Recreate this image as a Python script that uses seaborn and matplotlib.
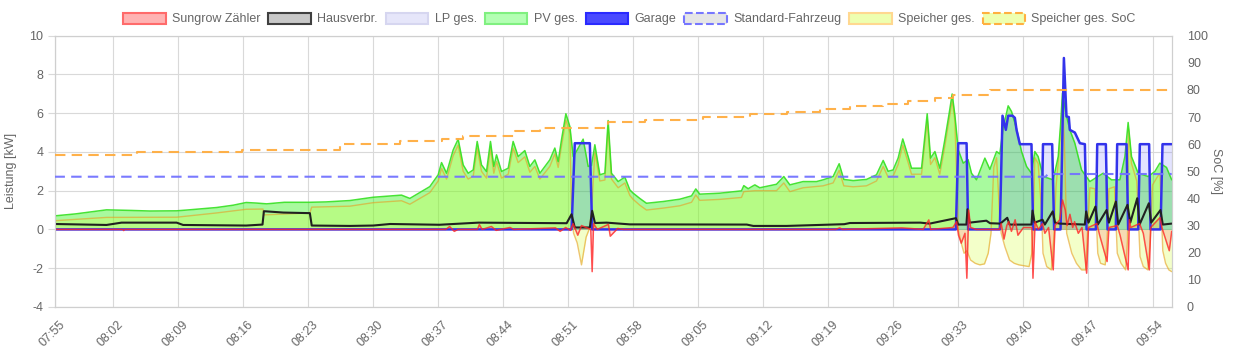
import matplotlib
matplotlib.use("Agg")
import matplotlib.pyplot as plt
import matplotlib.transforms as mtransforms
import seaborn as sns
from matplotlib.patches import Patch

# ---------------- data (x = minutes after 07:00) ----------------
pv_points = [(55.79,0.70),(58.0,0.8),(61.35,1.01),(64.0,0.98),(66.0,0.95),(68.9,0.96),(70.0,1.0),(73.2,1.13),
    (75.0,1.25),(76.4,1.39),(77.5,1.36),(78.6,1.32),(80.5,1.4),(83.25,1.4),(85.0,1.42),(87.55,1.49),(90.07,1.66),
    (93.12,1.77),(94.02,1.6),(96.17,2.21),(97.07,2.82),(97.43,3.45),(97.97,2.9),(98.68,4.1),(99.22,4.66),(99.76,3.33),
    (100.3,2.9),(100.84,3.07),(101.27,4.54),(101.73,3.33),(102.27,2.99),(102.7,4.54),(103.06,3.25),(103.35,3.85),
    (103.89,2.99),(104.61,3.16),(105.14,4.54),(105.68,3.76),(106.4,4.07),(106.94,3.25),(107.48,3.59),(108.02,2.9),
    (109.09,3.59),(109.63,4.2),(109.99,3.5),(110.35,4.63),(110.82,5.97),(111.25,5.31),(111.61,3.76),(112.04,4.1),
    (112.68,4.66),(113.22,3.25),(113.58,3.3),(113.94,4.37),(114.48,2.82),(115.02,2.9),(115.37,5.62),(115.73,2.9),
    (116.45,2.47),(117.17,2.7),(117.71,2.04),(118.07,1.87),(118.78,1.6),(119.5,1.35),(121.3,1.44),(123.09,1.56),
    (124.35,1.73),(124.81,2.09),(125.24,1.82),(127.4,1.87),(129.73,1.99),(129.98,2.26),(130.45,2.1),(131.17,2.3),
    (131.7,2.15),(133.5,2.33),(134.29,2.73),(134.94,2.3),(136.37,2.47),(137.81,2.47),(138.52,2.56),(139.6,2.73),
    (140.25,3.39),(140.75,2.58),(141.76,2.52),(143.19,2.58),(144.27,2.82),(144.99,3.56),(145.52,3.0),(146.06,3.07),
    (146.6,3.68),(147.1,4.67),(147.68,3.76),(148.04,3.16),(149.12,3.16),(149.73,5.97),(150.09,3.68),(150.56,4.02),
    (151.09,3.16),(151.63,4.63),(152.1,6.0),(152.42,6.99),(152.71,5.9),(153.07,4.11),(153.61,3.42),(154.14,3.6),
    (154.5,2.9),(155.04,2.56),(155.94,3.68),(156.48,3.1),(157.2,4.02),(157.55,3.9),(157.91,5.23),(158.45,6.38),
    (158.81,6.09),(159.35,5.2),(159.89,4.02),(160.43,3.25),(160.96,2.9),(161.32,4.02),(161.68,3.76),(162.22,2.73),
    (163.3,2.56),(163.84,3.76),(164.09,5.4),(164.3,7.04),(164.66,6.0),(165.09,5.14),(165.63,4.45),(166.35,3.07),
    (167.25,2.47),(168.68,2.9),(169.58,2.56),(170.48,2.56),(171.02,3.76),(171.37,5.52),(171.73,3.76),(172.45,2.9),
    (173.53,2.73),(174.25,2.99),(174.78,3.42),(175.5,3.2),(176.06,2.56)]

speicher_points = [(55.79,0.45),(61.35,0.62),(68.9,0.63),(73.2,0.85),(76.4,1.04),(78.2,1.05),(78.3,0.75),
    (83.25,0.85),(83.45,1.15),(87.55,1.2),(90.07,1.38),(93.12,1.48),(94.02,1.3),(96.17,1.9),(97.07,2.5),(97.43,3.15),
    (97.97,2.6),(98.68,3.8),(99.22,4.35),(99.76,3.0),(100.3,2.6),(100.84,2.75),(101.27,4.2),(101.73,3.0),(102.27,2.65),
    (102.7,4.2),(103.06,2.9),(103.35,3.5),(103.89,2.65),(104.61,2.85),(105.14,4.2),(105.68,3.45),(106.4,3.75),
    (106.94,2.95),(107.48,3.25),(108.02,2.6),(109.09,3.25),(109.63,3.9),(109.99,3.2),(110.35,4.3),(110.82,5.65),
    (111.25,5.0),(111.43,1.0),(111.65,-0.2),(112.04,-0.7),(112.5,-1.83),(113.0,-0.4),(113.4,0.1),(113.65,1.5),
    (113.94,4.0),(114.48,2.5),(115.02,2.55),(115.37,5.3),(115.73,2.6),(116.45,2.15),(117.17,2.4),(117.71,1.75),
    (118.07,1.55),(118.78,1.25),(119.5,1.0),(121.3,1.1),(123.09,1.22),(124.35,1.4),(124.81,1.78),(125.24,1.5),
    (127.4,1.55),(129.73,1.65),(129.98,1.95),(131.17,2.0),(133.5,2.0),(134.29,2.4),(134.94,1.95),(136.37,2.15),
    (138.52,2.25),(139.6,2.4),(140.25,3.05),(140.75,2.25),(141.76,2.2),(143.19,2.25),(144.27,2.5),(144.99,3.25),
    (145.52,2.7),(146.06,2.75),(146.6,3.35),(147.1,4.35),(147.68,3.45),(148.04,2.85),(149.12,2.85),(149.73,5.65),
    (150.09,3.35),(150.56,3.7),(151.09,2.85),(151.63,4.3),(152.1,5.7),(152.42,6.65),(152.71,5.6),(152.95,2.0),
    (153.07,0.0),(153.4,-0.71),(153.7,-1.23),(154.0,-1.1),(154.4,-1.58),(154.9,-1.75),(155.4,-1.83),(155.9,-1.78),
    (156.3,-1.23),(156.6,-0.2),(156.9,3.2),(157.2,3.7),(157.5,1.0),(157.7,-0.2),(158.1,-0.9),(158.6,-1.58),
    (159.1,-1.75),(159.6,-1.83),(160.2,-1.88),(160.7,-1.92),(161.0,-1.23),(161.14,0.0),(161.32,3.7),(161.68,3.4),
    (162.04,1.0),(162.2,-1.23),(162.6,-1.92),(163.1,-2.09),(163.35,-0.54),(163.6,2.2),(163.84,3.45),(164.09,5.1),
    (164.3,6.7),(164.5,4.5),(164.75,-0.2),(165.3,-1.23),(165.8,-1.75),(166.35,-2.09),(166.8,-2.09),(166.95,-0.54),
    (167.25,2.15),(167.8,2.1),(168.1,-1.23),(168.4,-1.75),(168.9,-1.83),(169.1,-0.54),(169.3,2.1),(169.9,2.2),
    (170.2,-1.23),(170.6,-1.75),(171.1,-2.09),(171.3,-0.54),(171.4,5.2),(171.73,3.4),(172.3,2.5),(172.65,-1.4),
    (173.0,-1.92),(173.5,-2.09),(173.75,-0.54),(174.0,2.3),(174.5,2.7),(174.8,2.9),(175.1,-1.1),(175.4,-1.75),
    (175.75,-2.09),(176.06,-2.18)]

garage_points = [(55.75,0),(111.43,0),(111.78,4.45),(113.40,4.45),(113.65,0),(152.82,0),(153.07,4.45),
    (153.97,4.45),(154.14,0),(157.55,0),(157.84,5.87),(158.20,5.14),(158.45,5.87),(158.92,5.87),(159.17,5.76),
    (159.35,5.14),(159.71,4.40),(160.96,4.40),(161.14,0),(162.04,0),(162.20,4.40),(163.19,4.40),(163.40,0),
    (164.09,0),(164.45,8.85),(164.73,5.83),(164.98,5.80),(165.09,5.14),(165.63,5.00),(166.17,4.45),(166.71,4.40),
    (166.89,0),(167.89,0),(168.04,4.40),(168.97,4.40),(169.15,0),(170.04,0),(170.19,4.40),(171.20,4.40),
    (171.37,0),(172.45,0),(172.63,4.40),(173.63,4.40),(173.78,0),(174.86,0),(175.07,4.40),(176.06,4.40)]
lp_points = garage_points  # LP ges. equals the single charge point "Garage"

house_points = [(55.75,0.28),(61.35,0.23),(62.97,0.35),(68.9,0.35),(69.6,0.23),(76.4,0.2),(78.15,0.25),
    (78.3,0.94),(80.4,0.87),(83.25,0.84),(83.45,0.2),(87.55,0.18),(90.07,0.2),(91.9,0.28),(97.2,0.24),(101.4,0.35),
    (110.9,0.32),(111.43,0.78),(111.78,0.1),(113.4,0.1),(113.65,0.96),(113.95,0.33),(115.2,0.35),(117.7,0.26),
    (130.3,0.25),(131.0,0.18),(134.6,0.18),(140.8,0.27),(141.4,0.33),(149.0,0.35),(150.0,0.3),(152.82,0.58),
    (153.07,0.25),(153.95,0.25),(154.07,1.04),(154.3,0.35),(156.1,0.45),(156.5,0.32),(157.6,0.3),(158.35,0.6),
    (158.6,0.25),(160.96,0.25),(161.07,0.97),(161.3,0.35),(162.15,0.5),(162.4,0.25),(163.25,0.93),(163.5,0.35),
    (164.0,0.3),(166.7,0.25),(166.85,0.93),(167.1,0.35),(167.85,1.18),(168.1,0.25),(169.05,1.0),(169.3,0.35),
    (170.05,1.44),(170.3,0.25),(171.3,1.27),(171.6,0.35),(172.35,1.61),(172.6,0.25),(173.6,1.35),(173.85,0.35),
    (174.85,1.0),(175.1,0.25),(176.06,0.3)]

grid_points = [(55.75,0.0),(63.1,0.0),(63.2,-0.06),(63.3,0.0),(97.9,0.0),(98.3,0.15),(98.8,-0.1),(99.2,0.0),
    (101.3,0.0),(101.5,0.25),(101.8,0.0),(102.8,0.15),(103.3,-0.05),(104.8,0.1),(105.2,0.0),(109.7,0.08),
    (110.2,-0.1),(110.8,0.1),(111.3,-0.05),(111.6,0.3),(112.1,-0.3),(112.5,0.2),(113.0,0.1),(113.5,0.0),
    (113.65,-2.18),(113.8,0.3),(114.2,0.0),(115.4,0.26),(115.6,-0.35),(116.4,0.05),(117.0,0.0),(139.9,0.0),
    (140.3,0.08),(140.6,0.0),(144.5,0.05),(147.0,0.08),(149.3,0.0),(149.9,0.49),(150.1,0.0),(152.5,0.1),(152.9,0.4),
    (153.1,-0.3),(153.4,-0.71),(153.8,-0.2),(154.0,-2.52),(154.2,1.0),(154.4,0.1),(155.0,0.0),(157.5,0.0),
    (157.7,0.3),(158.0,-0.5),(158.3,0.2),(158.5,0.4),(158.8,-0.1),(159.2,0.5),(159.5,-0.3),(160.1,0.1),(161.0,0.1),
    (161.12,-2.52),(161.35,0.4),(161.7,0.0),(162.15,0.3),(162.4,-0.2),(162.8,0.1),(163.3,-2.09),(163.5,0.2),
    (164.0,0.5),(164.3,1.52),(164.6,1.0),(164.8,0.2),(165.1,0.78),(165.4,0.1),(165.6,0.4),(166.0,-0.2),(166.4,0.1),
    (166.9,-2.26),(167.1,0.1),(168.0,0.3),(168.3,-0.3),(169.1,-1.66),(169.3,0.1),(170.2,0.2),(170.5,-0.3),
    (171.37,-2.09),(171.5,0.5),(171.65,0.1),(172.6,0.3),(173.0,-0.2),(173.65,-2.09),(173.8,0.1),(174.8,0.61),
    (175.0,0.1),(175.8,-1.1),(176.06,-0.1)]

soc_points = [(55.75,56),(64.65,57),(75.89,58),(86.48,60),(92.94,61),(97.43,62),(99.76,63),(105.32,65),
    (108.01,66),(115.37,68),(119.32,69),(125.6,70),(130.63,71),(134.58,72),(138.17,73),(141.4,74),(144.98,75),
    (147.68,76),(150.55,77),(152.52,78),(156.47,80),(176.06,80)]

standard_points = [(55.75,48),(162.5,48),(162.7,49),(176.06,49)]

tick_labels = ["07:55","08:02","08:09","08:16","08:23","08:30","08:37","08:44","08:51","08:58",
               "09:05","09:12","09:19","09:26","09:33","09:40","09:47","09:54"]
x_start, x_end = 55.75, 176.06


def unzip(points):
    xs, ys = zip(*points)
    return list(xs), list(ys)

pv_x, pv_y = unzip(pv_points)
sp_x, sp_y = unzip(speicher_points)
ga_x, ga_y = unzip(garage_points)
lp_x, lp_y = unzip(lp_points)
ho_x, ho_y = unzip(house_points)
gr_x, gr_y = unzip(grid_points)
soc_x, soc_y = unzip(soc_points)
st_x, st_y = unzip(standard_points)

# ---------------- style ----------------
sns.set_theme(style="white")
plt.rcParams['font.family'] = ['Liberation Sans', 'DejaVu Sans']
plt.rcParams['axes.unicode_minus'] = False
TXT = '#666666'
GRIDC = '#d9d9d9'

fig = plt.figure(figsize=(12.34, 3.59), dpi=100)
ax = fig.add_axes([54.5/1234, 1-306.9/359, (1171.7-54.5)/1234, (306.9-35.7)/359])
ax2 = ax.twinx()

# fills
ax.fill_between(pv_x, pv_y, 0, color=(0.10, 0.95, 0.0), alpha=0.38, lw=0, zorder=1)
ax.fill_between(sp_x, sp_y, 0, color=(0.85, 1.0, 0.30), alpha=0.30, lw=0, zorder=2)
ax.fill_between(lp_x, lp_y, 0, color=(0.40, 0.40, 1.0), alpha=0.18, lw=0, zorder=3)
ax.fill_between(gr_x, gr_y, 0, color=(1.0, 0.45, 0.45), alpha=0.25, lw=0, zorder=3)

def line(a, x, y, color, lw, z, alpha=1.0, dashes=None, steps=False):
    kw = dict(drawstyle='steps-post') if steps else {}
    sns.lineplot(x=x, y=y, ax=a, color=color, linewidth=lw, alpha=alpha, estimator=None,
                 sort=False, legend=False, zorder=z, **kw)
    ln = a.lines[-1]
    if dashes:
        ln.set_dashes(dashes)
    return ln

line(ax, sp_x, sp_y, (0.90, 0.65, 0.15), 1.0, 4, alpha=0.65)
line(ax, pv_x, pv_y, (0.20, 0.88, 0.12), 1.1, 5, alpha=0.9)
line(ax, lp_x, lp_y, (0.85, 0.85, 0.98), 1.0, 5)
line(ax, ga_x, ga_y, (0.20, 0.20, 0.92), 1.8, 6)
line(ax, ho_x, ho_y, (0.13, 0.13, 0.13), 1.5, 7)
line(ax, gr_x, gr_y, (1.0, 0.15, 0.15), 1.1, 8, alpha=0.8)

line(ax2, st_x, st_y, (0.45, 0.45, 1.0), 1.5, 4, alpha=0.95, dashes=[5, 3])
line(ax2, soc_x, soc_y, (1.0, 0.68, 0.25), 1.5, 4, alpha=0.95, dashes=[5, 3], steps=True)

# axes
ax.set_xlim(x_start, x_end)
ax.set_ylim(-4, 10)
ax.set_yticks(range(-4, 11, 2))
ax2.set_ylim(0, 100)
ax2.set_yticks(range(0, 101, 10))

ax.grid(True, color=GRIDC, lw=0.8)
ax.set_axisbelow(True)
ax2.grid(False)
for a in (ax, ax2):
    for s in a.spines.values():
        s.set_color('#cfcfcf')
        s.set_linewidth(0.8)

ax.tick_params(axis='both', which='both', color=GRIDC, labelcolor=TXT, labelsize=9,
               length=6, width=0.8, pad=3)
ax.tick_params(axis='x', pad=4, length=6)
ax.tick_params(axis='y', left=True, length=5, pad=3)
ax2.tick_params(axis='y', right=True, length=0, pad=11, labelcolor=TXT, labelsize=9)

tick_pos = [x_start] + [int(t[:2]) * 60 + int(t[3:]) - 420 for t in tick_labels[1:]]
ax.set_xticks(tick_pos)
ax.set_xticklabels(tick_labels, rotation=45, ha='right', va='center', rotation_mode='anchor')
shift = mtransforms.ScaledTranslation(9/100, -2/100, fig.dpi_scale_trans)
for tick in ax.xaxis.get_major_ticks():
    tick.label1.set_transform(tick.label1.get_transform() + shift)

ax.set_xlabel('')
ax.set_ylabel('Leistung [kW]', color=TXT, fontsize=9)
ax.yaxis.set_label_coords((17 - 54.5) / 1117.2, 0.5)
ax2.set_ylabel('SoC [%]', color=TXT, fontsize=9, rotation=270, va='center')
ax2.yaxis.set_label_coords((1216 - 54.5) / 1117.2, 0.5)

# legend
handles = [
    Patch(facecolor='#ffb3b3', edgecolor='#ff6b6b', lw=1.5, label='Sungrow Zähler'),
    Patch(facecolor='#c8c8c8', edgecolor='#404040', lw=1.5, label='Hausverbr.'),
    Patch(facecolor='#e6e6fa', edgecolor='#d6d6f0', lw=1.5, label='LP ges.'),
    Patch(facecolor='#b3ffb3', edgecolor='#80f080', lw=1.5, label='PV ges.'),
    Patch(facecolor='#4a4aff', edgecolor='#2a2aff', lw=1.5, label='Garage'),
    Patch(facecolor='#e6e6e6', edgecolor='#7777ff', lw=1.5, ls='--', label='Standard-Fahrzeug'),
    Patch(facecolor='#eeffb0', edgecolor='#ffd890', lw=1.5, label='Speicher ges.'),
    Patch(facecolor='#eeffb0', edgecolor='#ffb040', lw=1.5, ls='--', label='Speicher ges. SoC'),
]
leg = fig.legend(handles=handles, loc='center', bbox_to_anchor=(629.5/1234, 1-19/359), ncol=8,
                 frameon=False, fontsize=9, handlelength=3.4, handleheight=1.0,
                 handletextpad=0.5, columnspacing=0.65, borderaxespad=0)
for t in leg.get_texts():
    t.set_color(TXT)

fig.savefig('out.png', dpi=100)
